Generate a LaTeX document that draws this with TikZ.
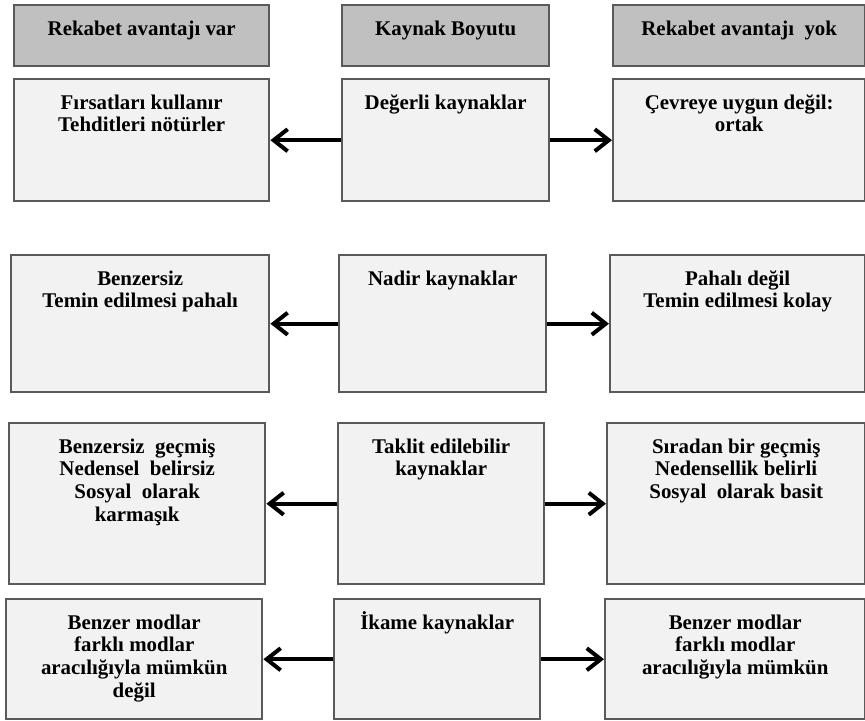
\documentclass[tikz,border=0pt]{standalone}
\usepackage{fontspec}
\setmainfont{Liberation Serif}
\usetikzlibrary{arrows.meta}
\definecolor{rbEdge}{HTML}{5A5A5A}
\definecolor{rbHead}{HTML}{C0C0C0}
\definecolor{rbCell}{HTML}{F2F2F2}
\newcommand{\boxtext}[3]{\parbox[t][#2][t]{#1}{\centering\rule{0pt}{15pt}#3}}

\begin{document}
\begin{tikzpicture}[x=0.5pt,y=-0.5pt,
                    font=\fontsize{10.45pt}{11.35pt}\selectfont\bfseries,
                    box/.style={draw=rbEdge,line width=1.2pt,inner sep=0pt,anchor=north west},
                    head/.style={box,fill=rbHead},
                    cell/.style={box,fill=rbCell},
                    link/.style={line width=2pt,-{Straight Barb[length=7pt,width=11pt,line width=2pt]}}]
  \useasboundingbox (0,0) rectangle (865,720);
  \node[head] (hv) at (13,4)  {\boxtext{127.5pt}{30.5pt}{Rekabet avantajı var}};
  \node[head] (hk) at (341,4) {\boxtext{103.5pt}{30.5pt}{Kaynak Boyutu}};
  \node[head] (hy) at (612,4) {\boxtext{126pt}{30.5pt}{Rekabet avantajı\ \ yok}};

  \node[cell] (v1) at (13,78)  {\boxtext{127.5pt}{61pt}{Fırsatları kullanır\\Tehditleri nötürler}};
  \node[cell] (k1) at (341,78) {\boxtext{103.5pt}{61pt}{Değerli kaynaklar}};
  \node[cell] (y1) at (612,78) {\boxtext{126pt}{61pt}{Çevreye uygun değil:\\ortak}};

  \node[cell] (v2) at (10,254)  {\boxtext{129pt}{68.5pt}{Benzersiz\\Temin edilmesi pahalı}};
  \node[cell] (k2) at (338,254) {\boxtext{103.5pt}{68.5pt}{Nadir kaynaklar}};
  \node[cell] (y2) at (609,254) {\boxtext{127.5pt}{68.5pt}{Pahalı değil\\Temin edilmesi kolay}};

  \node[cell] (v3) at (8,422)   {\boxtext{128pt}{80.5pt}{Benzersiz\ \ geçmiş\\Nedensel\ \ belirsiz\\Sosyal\ \ olarak\\karmaşık}};
  \node[cell] (k3) at (337,422) {\boxtext{103pt}{80.5pt}{Taklit edilebilir\\kaynaklar}};
  \node[cell] (y3) at (606,422) {\boxtext{129pt}{80.5pt}{Sıradan bir geçmiş\\Nedensellik belirli\\Sosyal\ \ olarak basit}};

  \node[cell] (v4) at (5,598)   {\boxtext{128pt}{60pt}{Benzer modlar\\farklı modlar\\aracılığıyla mümkün\\değil}};
  \node[cell] (k4) at (333,598) {\boxtext{103pt}{60pt}{İkame kaynaklar}};
  \node[cell] (y4) at (604,598) {\boxtext{130pt}{60pt}{Benzer modlar\\farklı modlar\\aracılığıyla mümkün}};

  \foreach \r in {1,...,4} {
    \draw[link] (k\r.west) -- (v\r.east);
    \draw[link] (k\r.east) -- (y\r.west);
  }
\end{tikzpicture}
\end{document}
